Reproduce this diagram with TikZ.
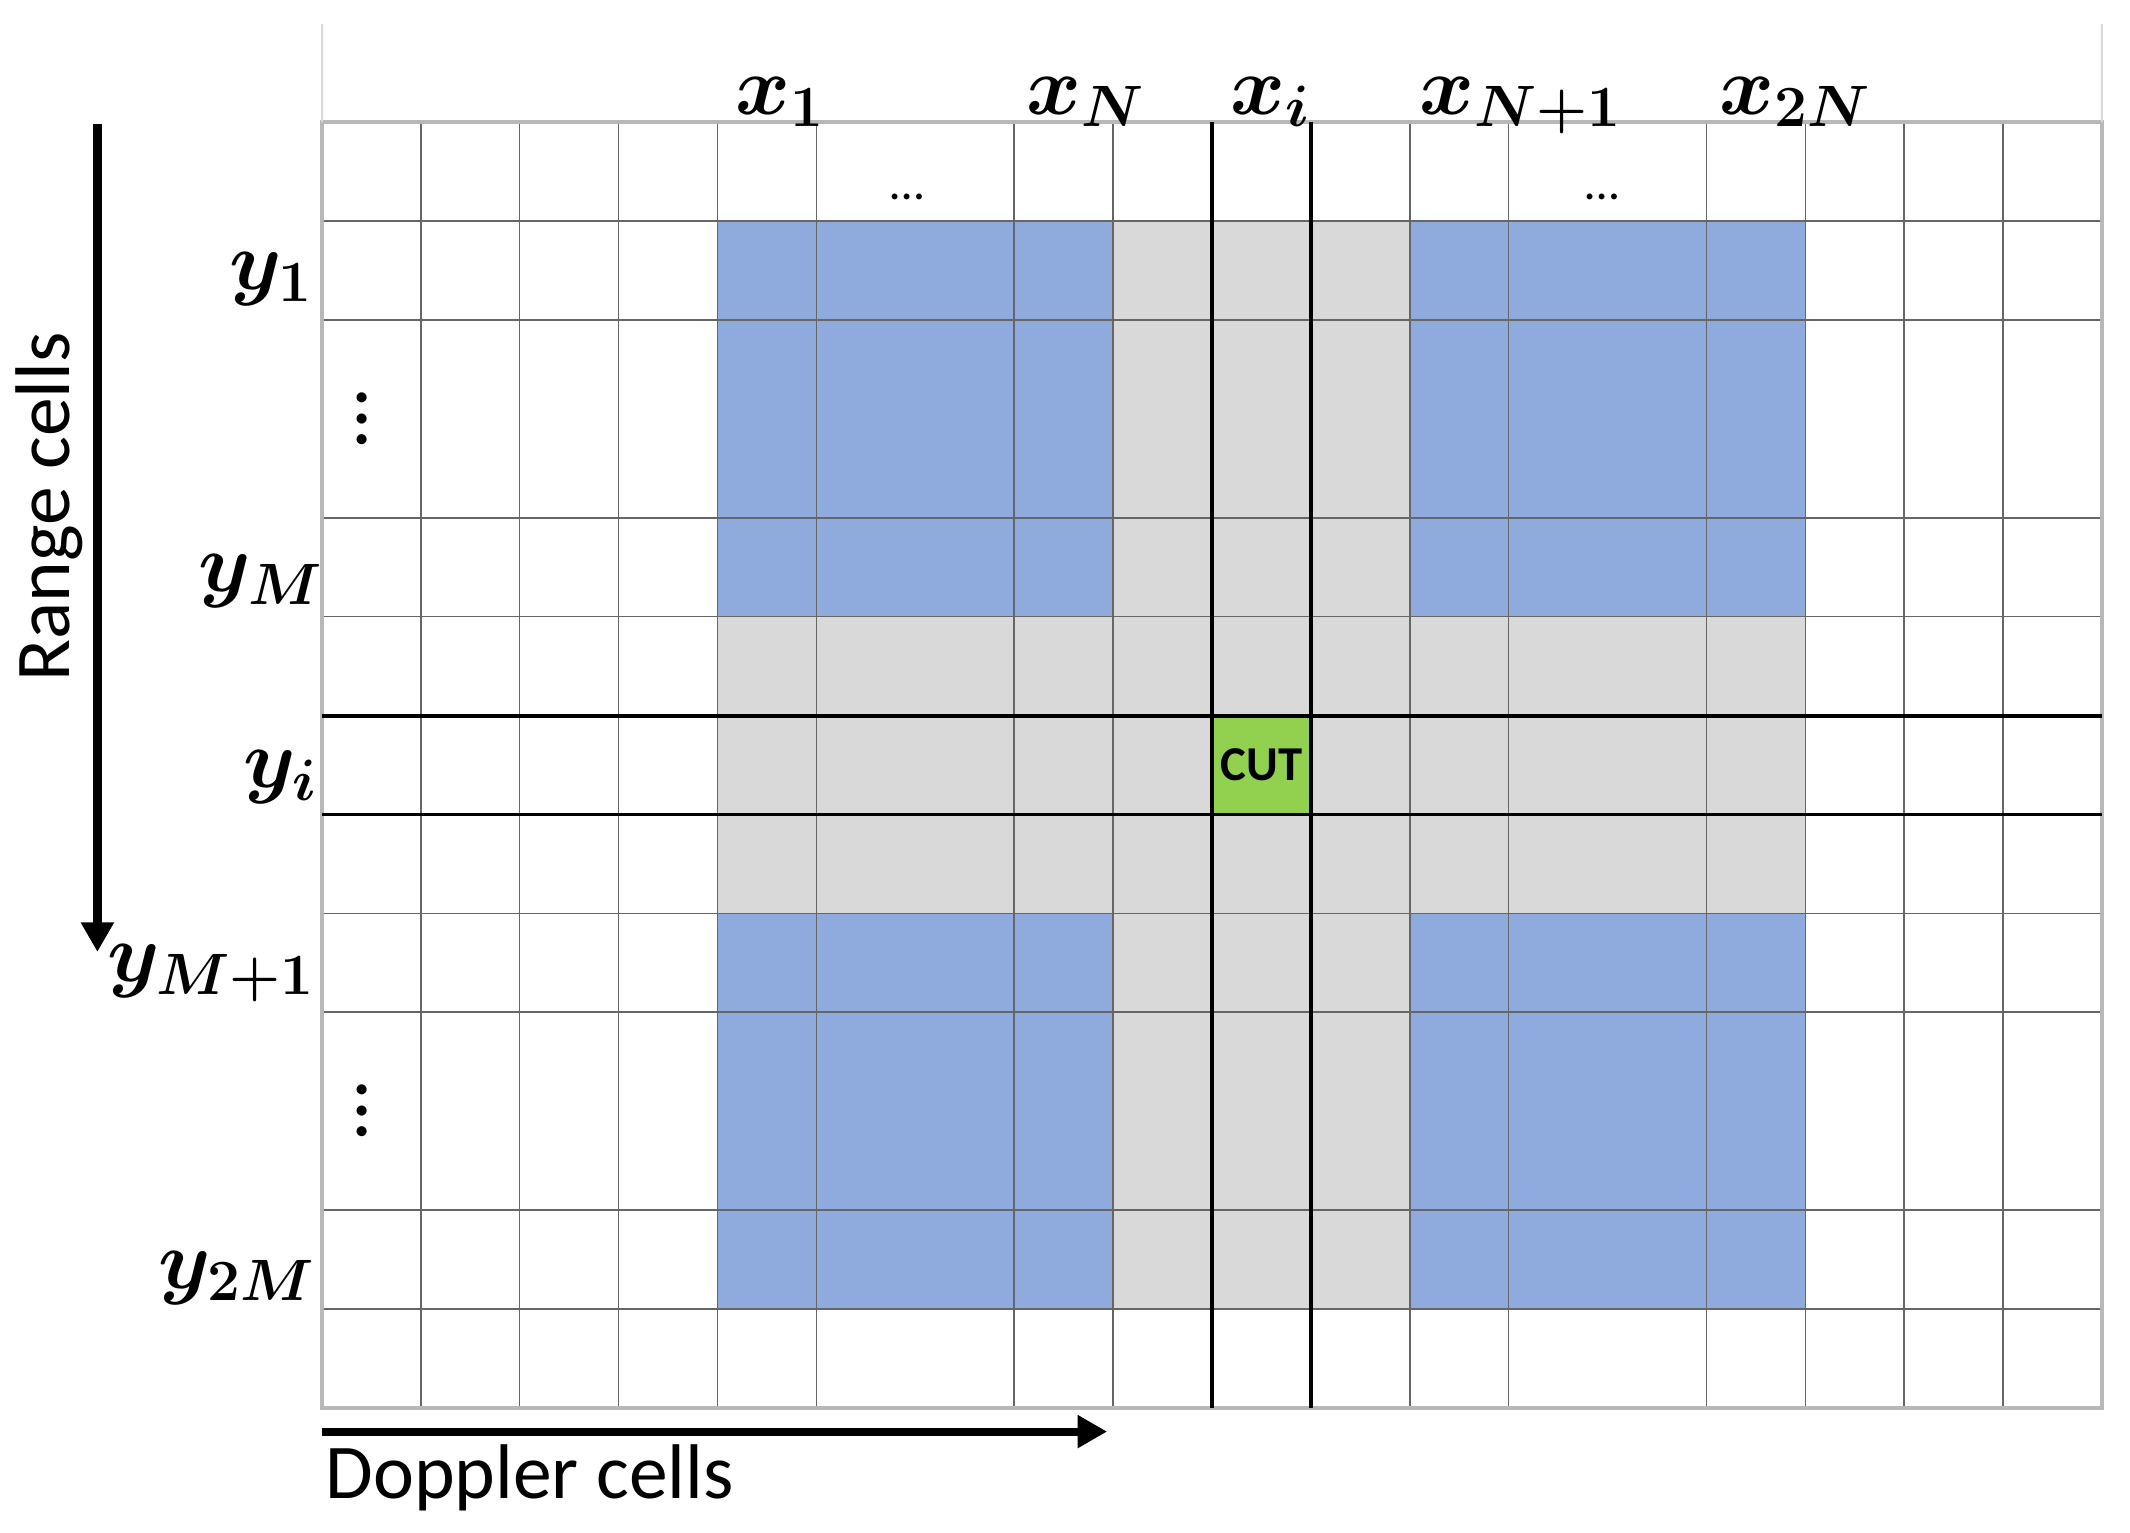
\RequirePackage{fix-cm}
\documentclass[tikz,border=0pt]{standalone}
\usepackage{fontspec}
\usepackage{xcolor}
\usepackage{amssymb}
\usepackage{tikz}
\usetikzlibrary{arrows.meta}

\newfontfamily\calib{Carlito}
\definecolor{cellblue}{HTML}{8FAADC}
\definecolor{cellgray}{HTML}{D9D9D9}
\definecolor{cutgreen}{HTML}{92D050}

\begin{document}
\begin{tikzpicture}[x=1cm,y=1cm,
		gridline/.style={draw=black!60,line width=0.45pt},
		border/.style={draw=black!28,line width=1pt},
		cutline/.style={draw=black,line width=1.1pt},
		axisarrow/.style={line width=2.6pt,-{Triangle[width=9pt,length=8.5pt]}},
		lab/.style={inner sep=0pt,font=\fontsize{24}{28}\selectfont\boldmath},
		axislab/.style={inner sep=0pt,font=\calib\fontsize{22.3}{26}\selectfont}]
		\useasboundingbox (-3.255,-1.258) rectangle (18.283,14.236);

		\fill[cellgray] (4,1) rectangle (15,12);
		\fill[cellblue] (4,8) rectangle (8,12);
		\fill[cellblue] (11,8) rectangle (15,12);
		\fill[cellblue] (4,1) rectangle (8,5);
		\fill[cellblue] (11,1) rectangle (15,5);
		\fill[cutgreen] (9,6) rectangle (10,7);

		\draw[gridline] (1,0) -- (1,13) (2,0) -- (2,13) (3,0) -- (3,13) (4,0) -- (4,13)
			(5,0) -- (5,13) (7,0) -- (7,13) (8,0) -- (8,13) (11,0) -- (11,13)
			(12,0) -- (12,13) (14,0) -- (14,13) (15,0) -- (15,13) (16,0) -- (16,13) (17,0) -- (17,13);
		\draw[gridline] (0,1) -- (18,1) (0,2) -- (18,2) (0,4) -- (18,4) (0,5) -- (18,5)
			(0,8) -- (18,8) (0,9) -- (18,9) (0,11) -- (18,11) (0,12) -- (18,12);
		\draw[border] (0,0) rectangle (18,13);
		\draw[draw=black!15,line width=0.8pt] (0,13) -- (0,13.99) (18,13) -- (18,13.99);

		\draw[cutline] (9,0) -- (9,13);
		\draw[cutline] (10,0) -- (10,13);
		\draw[cutline] (0,7) -- (18,7);
		\draw[cutline] (0,6) -- (18,6);

		\node[font=\calib\bfseries\fontsize{14}{16}\selectfont,inner sep=0pt] (cut) at (9.5,6.5) {CUT};

		\node[lab,anchor=base] (x1) at (4.64,13.08) {$x_1$};
		\node[lab,anchor=base] (xN) at (7.73,13.08) {$x_N$};
		\node[lab,anchor=base] (xi) at (9.59,13.08) {$x_i$};
		\node[lab,anchor=base] (xN1) at (12.12,13.08) {$x_{N+1}$};
		\node[lab,anchor=base] (x2N) at (14.90,13.08) {$x_{2N}$};

		\node[lab,anchor=base east] (y1) at (-0.08,11.31) {$y_1$};
		\node[lab,anchor=base east] (yM) at (0.02,8.25) {$y_M$};
		\node[lab,anchor=base east] (yi) at (-0.03,6.27) {$y_i$};
		\node[lab,anchor=base east] (yM1) at (-0.06,4.31) {$y_{M+1}$};
		\node[lab,anchor=base east] (y2M) at (-0.06,1.21) {$y_{2M}$};

		\node[font=\calib\fontsize{14}{16}\selectfont,inner sep=0pt,anchor=base] (hdots1) at (5.92,12.22) {\ldots};
		\node[font=\calib\fontsize{14}{16}\selectfont,inner sep=0pt,anchor=base] (hdots2) at (12.95,12.22) {\ldots};
		\node[font=\calib\fontsize{24}{28}\selectfont,inner sep=0pt,rotate=90,anchor=base] (vdots1) at (0.45,10) {\ldots};
		\node[font=\calib\fontsize{24}{28}\selectfont,inner sep=0pt,rotate=90,anchor=base] (vdots2) at (0.45,3) {\ldots};

		\coordinate (rtop) at (-2.27,12.98);
		\coordinate (rbot) at (-2.27,4.61);
		\draw[axisarrow] (rtop) -- (rbot);
		\node[axislab,rotate=90,anchor=base] (range) at (-2.55,9.11) {Range cells};

		\coordinate (dleft) at (0,-0.24);
		\coordinate (dright) at (7.94,-0.24);
		\draw[axisarrow,line width=2.3pt] (dleft) -- (dright);
		\node[axislab,anchor=base west] (doppler) at (0.03,-0.92) {Doppler cells};
	\end{tikzpicture}
\end{document}
